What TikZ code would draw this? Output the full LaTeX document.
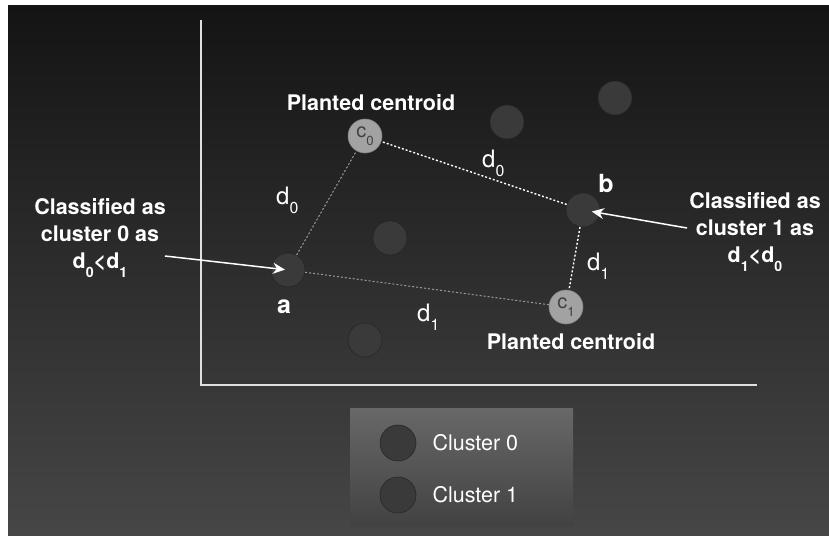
\documentclass[tikz,border=0pt]{standalone}
\usepackage{fontspec}
\setmainfont{TeX Gyre Heros}
\usepackage{graphicx}
\usepackage{tikz}
\usetikzlibrary{positioning, arrows.meta}
\definecolor{bgtop}{HTML}{141414}
\definecolor{bgbottom}{HTML}{464646}
\definecolor{dotfill}{HTML}{3A3A3A}
\definecolor{dotrim}{HTML}{262626}
\definecolor{centfill}{HTML}{A2A2A2}
\definecolor{legtop}{HTML}{686868}
\definecolor{legbottom}{HTML}{424242}
\newcommand{\lowsub}[1]{\raisebox{-0.38em}{\scalebox{0.66}{#1}}}

\begin{document}
\begin{tikzpicture}[
        x=1pt, y=-1pt,
        point/.style={circle, minimum size=34pt, inner sep=0pt, fill=dotfill, draw=dotrim, line width=0.6pt},
        centroid/.style={circle, minimum size=34pt, inner sep=0pt, fill=centfill, draw=centfill!80!black,
            line width=0.6pt, text=black!75, font=\fontsize{20}{20}\selectfont},
        label/.style={text=white, font=\bfseries\fontsize{21.5}{27}\selectfont, align=center, inner sep=0pt},
        pointname/.style={label, font=\bfseries\fontsize{25}{25}\selectfont},
        dist/.style={text=white, font=\fontsize{24}{24}\selectfont, inner sep=0pt, anchor=base west},
        keytext/.style={text=white, font=\fontsize{21.5}{21.5}\selectfont, inner sep=0pt},
        near/.style={draw=white, line width=1.4pt, dash pattern=on 2pt off 2pt},
        far/.style={draw=gray!80, line width=1pt, dash pattern=on 2pt off 2pt},
        pointer/.style={draw=white, line width=1.5pt, -{Stealth[length=12pt, width=11pt]}},
        axis/.style={draw=white!88!black, line width=2pt}
    ]
        \fill[white] (0,0) rectangle (829,535);
        \useasboundingbox (0,0) rectangle (829,535);
        \shade[top color=bgtop, bottom color=bgbottom] (8,6) rectangle (829,535);

        \coordinate (ytop) at (201,20);
        \coordinate (origin) at (201,385);
        \coordinate (xend) at (757,385);
        \draw[axis] (ytop) -- (origin) -- (xend);

        \foreach \n/\x/\y in {p1/507/122, p2/615/98, p3/390/238, p4/365/340}
            \node[point] (\n) at (\x,\y) {};
        \node[point] (a) at (288,270) {};
        \node[point] (b) at (583,210) {};
        \node[centroid] (c0) at (365,136) {c\lowsub{0}};
        \node[centroid] (c1) at (566,307) {c\lowsub{1}};

        \draw[far] (a) -- (c0);
        \draw[far] (a) -- (c1);
        \draw[near] (b) -- (c0);
        \draw[near] (b) -- (c1);

        \node[label] (topcent) at (371,103) {Planted centroid};
        \node[label] (botcent) at (571,342) {Planted centroid};
        \node[pointname] (namea) at (284,307) {a};
        \node[pointname] (nameb) at (606,183) {b};

        \node[dist] (dtop) at (482,167) {d\lowsub{0}};
        \node[dist] (dleft) at (276,204) {d\lowsub{0}};
        \node[dist] (dright) at (587,270) {d\lowsub{1}};
        \node[dist] (dlow) at (417,321) {d\lowsub{1}};

        \node[label] (whya) at (100,238) {Classified as\\cluster 0 as\\d\lowsub{0}<d\lowsub{1}};
        \node[label] (whyb) at (755,232) {Classified as\\cluster 1 as\\d\lowsub{1}<d\lowsub{0}};
        \coordinate (taila) at (165,256);
        \coordinate (tailb) at (687,228);
        \draw[pointer, shorten >=3pt] (taila) -- (a.center);
        \draw[pointer, shorten >=9pt] (tailb) -- (b.center);

        \shade[top color=legtop, bottom color=legbottom] (350,408) rectangle (573,525);
        \node[point, minimum size=36pt] (key0) at (398,443) {};
        \node[point, minimum size=36pt] (key1) at (398,495) {};
        \node[keytext, right=16pt of key0] (name0) {Cluster 0};
        \node[keytext, right=16pt of key1] (name1) {Cluster 1};
    \end{tikzpicture}
\end{document}
